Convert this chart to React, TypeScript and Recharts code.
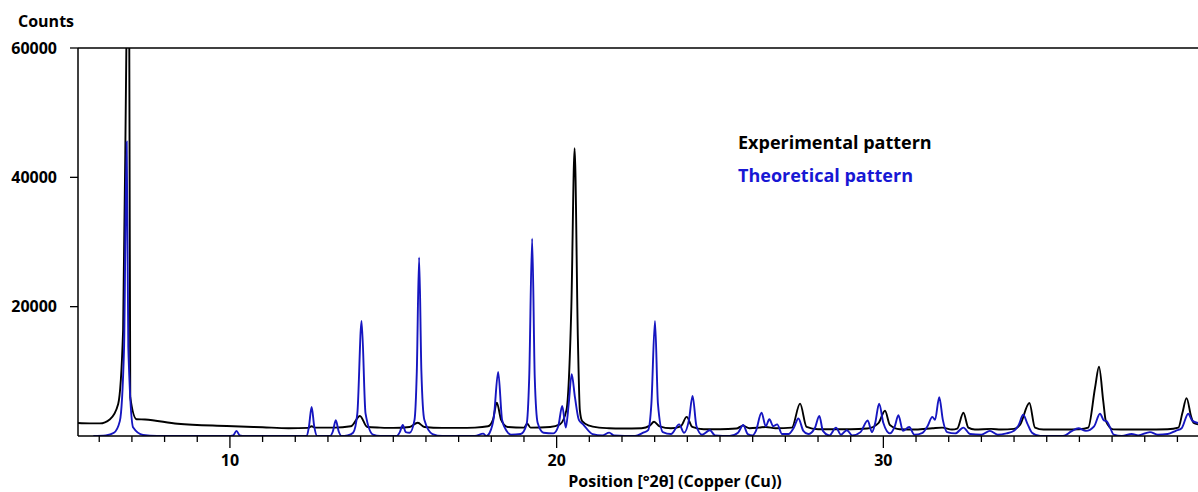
import React from 'react';
import { LineChart, Line, XAxis, YAxis, ReferenceLine } from 'recharts';

// Experimental pattern: [position 2θ, counts]
const experimentalPattern: [number, number][] = [
  [5.35, 2000], [5.7, 1950], [6.02, 1950], [6.33, 2600], [6.58, 4950], [6.73, 16300],
  [6.83, 60000], [6.875, 80000], [6.92, 60000], [6.95, 6000], [7.14, 2600], [7.4, 2550],
  [8.4, 1900], [9.9, 1550], [11.0, 1350], [11.8, 1200], [12.4, 1250], [12.5, 1500],
  [12.6, 1300], [13.2, 1300], [13.7, 1500], [13.98, 3100], [14.2, 1400], [14.6, 1300],
  [15.0, 1250], [15.5, 1400], [15.75, 2060], [15.95, 1400], [16.5, 1250], [17.0, 1250],
  [17.5, 1300], [17.9, 1500], [18.05, 2500], [18.17, 5160], [18.3, 2500], [18.5, 1400],
  [19.0, 1300], [19.1, 1900], [19.2, 1300], [19.8, 1400], [20.1, 1800], [20.3, 4000],
  [20.45, 20000], [20.55, 44500], [20.65, 15000], [20.71, 4000], [20.78, 2300], [21.0, 1600],
  [21.3, 1300], [21.6, 1200], [22.0, 1150], [22.6, 1200], [22.85, 1600], [22.98, 2200],
  [23.15, 1500], [23.5, 1200], [23.8, 1500], [23.98, 2950], [24.15, 1400], [24.5, 1050],
  [25.0, 1050], [25.5, 1150], [25.7, 1600], [25.9, 1200], [26.2, 1300], [26.4, 1400],
  [26.7, 1200], [27.2, 1300], [27.45, 5000], [27.65, 1400], [28.0, 1050], [29.0, 1050],
  [29.5, 1150], [29.85, 2000], [30.05, 3900], [30.2, 1700], [30.5, 1050], [31.0, 1000],
  [31.5, 1200], [31.8, 1300], [32.1, 1000], [32.26, 1150], [32.45, 3600], [32.6, 1300],
  [32.8, 1000], [33.3, 1100], [33.6, 1000], [34.0, 1100], [34.18, 1700], [34.47, 5100],
  [34.64, 1300], [34.9, 1000], [35.5, 1000], [36.0, 1050], [36.27, 1300], [36.48, 7500],
  [36.6, 10700], [36.73, 5400], [36.81, 2300], [37.04, 1030], [37.5, 1000], [38.0, 1000],
  [38.7, 1050], [39.03, 1300], [39.15, 3500], [39.28, 5850], [39.42, 3000], [39.49, 2060],
  [39.63, 1800],
];

// Theoretical pattern: [position 2θ, counts]
const theoreticalPattern: [number, number][] = [
  [5.82, 0], [6.2, 100], [6.45, 500], [6.63, 2300], [6.76, 13700], [6.84, 45500],
  [6.89, 13700], [7.04, 1300], [7.34, 150], [7.77, 0], [9.95, 0], [10.1, 100],
  [10.2, 800], [10.3, 100], [10.45, 0], [12.35, 0], [12.42, 1500], [12.5, 4500],
  [12.58, 1500], [12.67, 0], [13.06, 0], [13.15, 700], [13.24, 2430], [13.33, 700],
  [13.42, 0], [13.6, 100], [13.77, 500], [13.9, 3500], [14.03, 17800], [14.15, 3500],
  [14.38, 200], [14.6, 0], [15.1, 0], [15.2, 600], [15.29, 1700], [15.38, 600],
  [15.5, 500], [15.65, 2500], [15.72, 10000], [15.79, 27600], [15.86, 10000], [15.95, 2500],
  [16.2, 300], [16.5, 0], [17.5, 0], [17.75, 360], [17.85, 0], [17.95, 500],
  [18.08, 3000], [18.21, 9900], [18.33, 2500], [18.47, 775], [18.6, 200], [18.9, 300],
  [19.08, 1800], [19.16, 9000], [19.25, 30500], [19.33, 9000], [19.42, 2000], [19.6, 500],
  [19.9, 400], [20.05, 1500], [20.17, 4650], [20.28, 1300], [20.37, 5000], [20.46, 9560],
  [20.56, 6000], [20.68, 2500], [20.81, 1800], [21.1, 300], [21.4, 100], [21.61, 520],
  [21.75, 100], [22.4, 0], [22.65, 520], [22.8, 900], [22.9, 5000], [23.01, 17800],
  [23.1, 5000], [23.25, 600], [23.5, 300], [23.75, 1800], [23.9, 500], [24.05, 2500],
  [24.16, 6200], [24.28, 1500], [24.45, 200], [24.69, 880], [24.85, 100], [25.3, 0],
  [25.55, 500], [25.71, 1700], [25.85, 300], [26.0, 100], [26.1, 800], [26.27, 3600],
  [26.4, 1500], [26.51, 2600], [26.63, 1500], [26.75, 1800], [26.9, 300], [27.1, 300],
  [27.25, 1200], [27.4, 2700], [27.55, 800], [27.7, 300], [27.9, 1200], [28.04, 3100],
  [28.15, 800], [28.35, 100], [28.55, 1300], [28.7, 200], [28.88, 900], [29.05, 100],
  [29.3, 600], [29.52, 2400], [29.65, 600], [29.75, 2000], [29.87, 5000], [30.0, 2000],
  [30.2, 400], [30.35, 1500], [30.46, 3200], [30.6, 800], [30.79, 1400], [30.95, 200],
  [31.2, 500], [31.35, 1500], [31.5, 2950], [31.58, 2500], [31.71, 6000], [31.82, 2500],
  [31.95, 600], [32.2, 400], [32.45, 1300], [32.65, 300], [33.0, 200], [33.26, 800],
  [33.5, 200], [33.77, 400], [34.0, 800], [34.15, 1800], [34.28, 3300], [34.4, 2000],
  [34.55, 500], [34.8, 0], [35.5, 0], [35.75, 700], [35.97, 1200], [36.2, 800],
  [36.45, 1500], [36.63, 3450], [36.75, 2400], [36.83, 2300], [36.94, 1300], [37.05, 200],
  [37.3, 0], [37.6, 300], [37.8, 100], [38.16, 600], [38.4, 200], [38.7, 300],
  [38.95, 800], [39.13, 1200], [39.33, 3450], [39.45, 2400], [39.63, 2000],
];

const xTicks = [6, 7, 8, 9, 10, 11, 12, 13, 14, 15, 16, 17, 18, 19, 20, 21, 22, 23, 24, 25, 26, 27, 28, 29, 30, 31, 32, 33, 34, 35, 36, 37, 38, 39];
const xLabelledTicks = [10, 20, 30];
const yTicks = [20000, 40000, 60000];
const xDomain: [number, number] = [5.35, 39.63];
const yDomain: [number, number] = [0, 60000];

const seriesNames = ['Experimental pattern', 'Theoretical pattern'];
const seriesColors = ['#000000', '#1616c0'];
const legendColors = ['#000000', '#1717d4'];

const toPoints = (pairs: [number, number][]) => pairs.map(([x, y]) => ({ x, y }));
const experimentalData = toPoints(experimentalPattern);
const theoreticalData = toPoints(theoreticalPattern);

const FONT = '"Open Sans", "DejaVu Sans", sans-serif';

const XTick = (props: any) => {
  const { x, y, payload } = props;
  const major = xLabelledTicks.includes(payload.value);
  return (
    <g>
      <line x1={x} x2={x} y1={y} y2={y + (major ? 12 : 6)} stroke="#000" strokeWidth={1.3} />
      {major && (
        <text x={x} y={y + 30} textAnchor="middle" fontFamily={FONT} fontWeight={700} fontSize={16} fill="#000">
          {payload.value}
        </text>
      )}
    </g>
  );
};

export default function App() {
  return (
    <div style={{ position: 'absolute', left: 0, top: 0, width: 1198, height: 492, background: '#fff', overflow: 'hidden' }}>
      <div style={{ position: 'absolute', left: 18, top: 9, fontFamily: FONT, fontWeight: 700, fontSize: 16, lineHeight: '24px', color: '#000' }}>
        Counts
      </div>
      <LineChart width={1198} height={492} margin={{ top: 48, right: 0, bottom: 0, left: 0 }}>
        <XAxis
          type="number"
          dataKey="x"
          domain={xDomain}
          allowDataOverflow
          ticks={xTicks}
          interval={0}
          height={56}
          tickSize={0}
          tickMargin={0}
          tickLine={false}
          tick={<XTick />}
          axisLine={{ stroke: '#000', strokeWidth: 1.5 }}
          label={{ value: 'Position [°2θ] (Copper (Cu))', position: 'insideBottom', offset: 5, dx: 37, fill: '#000', fontFamily: FONT, fontWeight: 700, fontSize: 16 }}
        />
        <YAxis
          type="number"
          dataKey="y"
          domain={yDomain}
          allowDataOverflow
          ticks={yTicks}
          interval={0}
          width={78}
          tickSize={8}
          tickMargin={13}
          tickLine={{ stroke: '#000', strokeWidth: 1.3 }}
          axisLine={{ stroke: '#000', strokeWidth: 1.5 }}
          tick={{ fill: '#000', fontFamily: FONT, fontWeight: 700, fontSize: 16 }}
        />
        <ReferenceLine y={60000} stroke="#000" strokeWidth={1.3} ifOverflow="visible" />
        <Line
          data={experimentalData}
          dataKey="y"
          name={seriesNames[0]}
          type="monotone"
          stroke={seriesColors[0]}
          strokeWidth={1.9}
          dot={false}
          isAnimationActive={false}
        />
        <Line
          data={theoreticalData}
          dataKey="y"
          name={seriesNames[1]}
          type="monotone"
          stroke={seriesColors[1]}
          strokeWidth={1.9}
          dot={false}
          isAnimationActive={false}
        />
      </LineChart>
      <div style={{ position: 'absolute', left: 738, top: 126, fontFamily: FONT, fontWeight: 700, fontSize: 18 }}>
        {seriesNames.map((n, i) => (
          <div key={n} style={{ color: legendColors[i], lineHeight: '33px', whiteSpace: 'nowrap' }}>{n}</div>
        ))}
      </div>
    </div>
  );
}
